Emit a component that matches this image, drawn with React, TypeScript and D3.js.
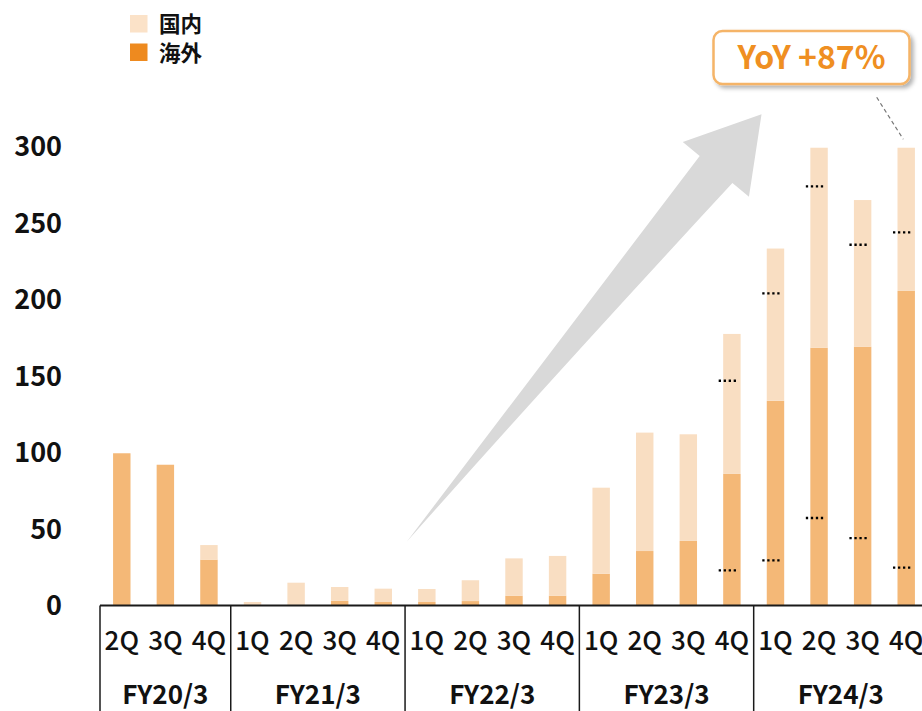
import * as d3 from "d3";

// quarterly sales, stacked: 海外 (overseas) at bottom, 国内 (domestic) on top
const fiscalYears = ["FY20/3", "FY21/3", "FY22/3", "FY23/3", "FY24/3"];
const quarterLabels = [
  ["2Q", "3Q", "4Q"],
  ["1Q", "2Q", "3Q", "4Q"],
  ["1Q", "2Q", "3Q", "4Q"],
  ["1Q", "2Q", "3Q", "4Q"],
  ["1Q", "2Q", "3Q", "4Q"],
];
const overseas = [99.5, 92, 30, 0, 0, 3, 2.3, 2.3, 2.9, 6.4, 6.4, 20.8, 35.6, 42.2, 86, 133.8, 168.5, 169.2, 205.6];
const domestic = [0, 0, 9.5, 2.3, 14.9, 9.1, 8.7, 8.5, 13.6, 24.4, 26, 56.2, 77.4, 69.7, 91.5, 99.5, 130.7, 95.8, 93.6];

// dotted reference marks (bar index, upper value, lower value)
const markBars = [14, 15, 16, 17, 18];
const markUpper = [146.9, 204, 274, 235.8, 243.9];
const markLower = [23, 29.5, 57.2, 44.1, 24.7];

const yTicks = [0, 50, 100, 150, 200, 250, 300];
const legendItems = [
  { label: "国内", color: "#FBE2C8" },
  { label: "海外", color: "#EE8A1F" },
];
const callout = "YoY +87%";

const COLORS = { overseas: "#F4B877", domestic: "#F9DEC2" };
const FONT = "'Noto Sans CJK JP', 'Noto Sans', sans-serif";
const W = 922;
const H = 711;
const MARGIN = { left: 100, right: -6, top: 146.5, bottom: 105.5 };

export default function App() {
  const rows = fiscalYears.flatMap((fy, i) =>
    quarterLabels[i].map((q) => ({ fy, q, key: `${fy}-${q}` }))
  );
  const data = rows.map((r, i) => ({ ...r, overseas: overseas[i], domestic: domestic[i] }));

  const x0 = MARGIN.left;
  const x1 = W - MARGIN.right;
  const baseY = H - MARGIN.bottom;

  const xScale = d3
    .scaleBand()
    .domain(data.map((d) => d.key))
    .range([x0, x1])
    .paddingInner(0.6)
    .paddingOuter(0.3);
  const step = xScale.step();
  const bandStart = (i: number) => x0 + i * step; // category cell edge
  const yScale = d3.scaleLinear().domain([0, 300]).range([baseY, MARGIN.top]);

  const series = d3.stack().keys(["overseas", "domestic"])(data as any);

  // fiscal-year group boundaries
  let acc = 0;
  const groups = fiscalYears.map((fy, i) => {
    const start = acc;
    acc += quarterLabels[i].length;
    return { fy, start, end: acc };
  });

  // growth arrow, placed in band-index / value space
  const idx = d3.scaleLinear().domain([0, 19]).range([x0, x1]);
  const tail: [number, number] = [idx(7.04), yScale(41.7)];
  const tip: [number, number] = [idx(15.18), yScale(321)];
  const dx = tip[0] - tail[0];
  const dy = tip[1] - tail[1];
  const len = Math.hypot(dx, dy);
  const ux = dx / len, uy = dy / len;
  const nx = -uy, ny = ux;
  const pt = (u: number, v: number) => [tail[0] + ux * u + nx * v, tail[1] + uy * u + ny * v];
  const headBase = len - 71.5;
  const arrowPts = [
    pt(0, 0),
    pt(headBase, -21),
    pt(headBase, -43),
    pt(len, 0),
    pt(headBase, 43),
    pt(headBase, 21.5),
  ];
  const arrowPath =
    `M${arrowPts[0].join(",")}` +
    `L${arrowPts[1].join(",")}L${arrowPts[2].join(",")}L${arrowPts[3].join(",")}` +
    `L${arrowPts[4].join(",")}L${arrowPts[5].join(",")}` +
    `Q${pt(headBase * 0.45, 7).join(",")} ${arrowPts[0].join(",")}Z`;

  const bw = xScale.bandwidth();

  return (
    <svg
      width={W}
      height={H}
      style={{ position: "absolute", left: 0, top: 0, display: "block", background: "#fff" }}
      fontFamily={FONT}
    >
      <defs>
        <filter id="shadow" x="-10%" y="-20%" width="130%" height="160%">
          <feDropShadow dx="3" dy="3" stdDeviation="2" floodColor="#000" floodOpacity="0.3" />
        </filter>
      </defs>

      {/* legend */}
      {legendItems.map((d, i) => (
        <g key={d.label} transform={`translate(130,${15 + i * 28.5})`}>
          <rect width={17.5} height={17.5} fill={d.color} />
          <text x={29} y={7.5} dominantBaseline="central" fontSize={21.5} fontWeight={700} fill="#111">
            {d.label}
          </text>
        </g>
      ))}

      {/* y tick labels */}
      {yTicks.map((t) => (
        <text
          key={t}
          x={62}
          y={yScale(t) - 2}
          textAnchor="end"
          dominantBaseline="central"
          fontSize={27}
          fontWeight={700}
          fill="#111"
        >
          {t}
        </text>
      ))}

      {/* bars */}
      {series.map((s) => (
        <g key={s.key}>
          {s.map((d: any, j: number) => (
            <rect
              key={j}
              x={xScale(d.data.key)}
              y={yScale(d[1])}
              width={bw}
              height={Math.max(0, yScale(d[0]) - yScale(d[1]))}
              fill={COLORS[s.key as "overseas" | "domestic"]}
            />
          ))}
        </g>
      ))}

      {/* dotted reference marks */}
      {markBars.map((b, i) => {
        const bx = xScale(data[b].key) as number;
        return (
          <g key={b} stroke="#000" strokeWidth={2.3} strokeDasharray="2.3 2.7">
            <line x1={bx - 4.5} x2={bx + 14} y1={yScale(markUpper[i])} y2={yScale(markUpper[i])} />
            <line x1={bx - 4.5} x2={bx + 14} y1={yScale(markLower[i])} y2={yScale(markLower[i])} />
          </g>
        );
      })}

      {/* growth arrow */}
      <path d={arrowPath} fill="#D9D9D9" />

      {/* callout */}
      <line x1={876.7} y1={97.3} x2={903.3} y2={139.3} stroke="#777" strokeWidth={1.2} strokeDasharray="4 3" />
      <g filter="url(#shadow)">
        <rect x={713.5} y={31} width={196} height={53} rx={9} fill="#fff" stroke="#F5B467" strokeWidth={2.5} />
      </g>
      <text
        x={811.5}
        y={55}
        textAnchor="middle"
        dominantBaseline="central"
        fontSize={32}
        fontWeight={700}
        fill="#EF8F22"
      >
        {callout}
      </text>

      {/* category axis */}
      <line x1={x0} x2={W} y1={baseY} y2={baseY} stroke="#1a1a1a" strokeWidth={1.8} />
      {groups.map((g) => (
        <line
          key={g.fy}
          x1={bandStart(g.start)}
          x2={bandStart(g.start)}
          y1={baseY}
          y2={H}
          stroke="#1a1a1a"
          strokeWidth={1.5}
        />
      ))}
      {data.map((d) => (
        <text
          key={d.key}
          x={(xScale(d.key) as number) + bw / 2}
          y={638.5}
          textAnchor="middle"
          dominantBaseline="central"
          fontSize={26}
          fontWeight={500}
          fill="#111"
        >
          {d.q}
        </text>
      ))}
      {groups.map((g) => (
        <text
          key={g.fy}
          x={(bandStart(g.start) + bandStart(g.end)) / 2}
          y={692}
          textAnchor="middle"
          dominantBaseline="central"
          fontSize={26}
          fontWeight={700}
          fill="#111"
        >
          {g.fy}
        </text>
      ))}
    </svg>
  );
}
